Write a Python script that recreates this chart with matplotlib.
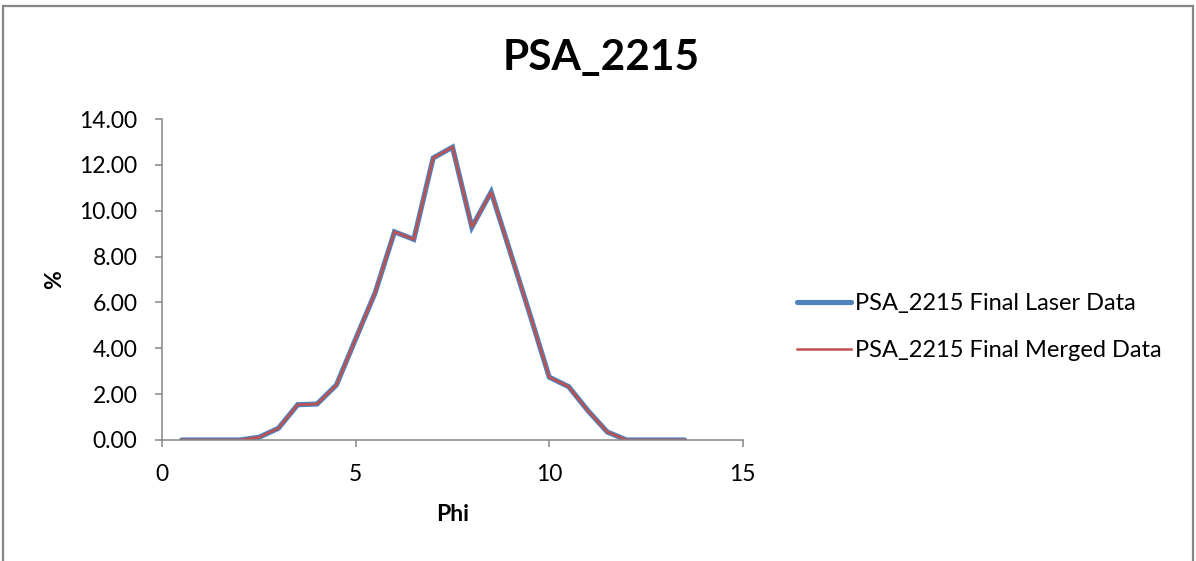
import matplotlib
matplotlib.use("Agg")
import matplotlib.pyplot as plt
from matplotlib.patches import Rectangle

plt.rcParams["font.family"] = ["Lato", "DejaVu Sans"]

# grain size distribution, phi classes
phi = [0.5, 1.0, 1.5, 2.0, 2.5, 3.0, 3.5, 4.0, 4.5, 5.0, 5.5, 6.0, 6.5, 7.0,
       7.5, 8.0, 8.5, 9.0, 9.5, 10.0, 10.5, 11.0, 11.5, 12.0, 12.5, 13.0, 13.5]
laser = [0.00, 0.00, 0.00, 0.00, 0.12, 0.51, 1.54, 1.57, 2.40, 4.42, 6.42, 9.08,
         8.75, 12.30, 12.77, 9.28, 10.82, 8.15, 5.48, 2.74, 2.33, 1.28, 0.35,
         0.00, 0.00, 0.00, 0.00]
merged = list(laser)

series_names = ["PSA_2215 Final Laser Data", "PSA_2215 Final Merged Data"]
title = "PSA_2215"

GRAY = "#868686"
BLUE = "#4F81BD"
RED = "#C0504D"
FS = 16.5

fig = plt.figure(figsize=(11.96, 5.61), dpi=100)
ax = fig.add_axes([162.3 / 1196, 1 - 440 / 561, (742.7 - 162.3) / 1196, (440 - 119) / 561])

l1, = ax.plot(phi, laser, color=BLUE, lw=3.7, solid_capstyle="round", solid_joinstyle="miter")
l2, = ax.plot(phi, merged, color=RED, lw=1.8, solid_joinstyle="miter")

ax.set_xlim(0, 15)
ax.set_ylim(0, 14)
ax.set_xticks([0, 5, 10, 15])
ax.set_yticks(range(0, 15, 2))
ax.set_yticklabels([f"{v:.2f}" for v in range(0, 15, 2)])

for side in ("top", "right"):
    ax.spines[side].set_visible(False)
for side in ("left", "bottom"):
    ax.spines[side].set_color(GRAY)
    ax.spines[side].set_linewidth(1.1)
ax.tick_params(axis="x", direction="out", length=5, width=1.1, color=GRAY,
               labelsize=FS, pad=12)
ax.tick_params(axis="y", direction="out", length=5, width=1.1, color=GRAY,
               labelsize=FS, pad=13)

ax.set_xlabel("Phi", fontsize=FS, fontweight="bold", labelpad=14)
ax.set_ylabel("%", fontsize=FS, fontweight="bold", labelpad=10)

fig.text(0.503, 1 - 70 / 561, title, ha="center", va="baseline",
         fontsize=30.5, fontweight="bold")

fig.legend([l1, l2], series_names, loc="center left",
           bbox_to_anchor=(788 / 1196, 1 - 327 / 561), borderaxespad=0,
           frameon=False, fontsize=17, handlelength=2.25, handletextpad=0.2,
           labelspacing=1.1)

# chart area border
fig.patches.append(Rectangle((3 / 1196, -0.05), 1190 / 1196, 1.05 - 6 / 561,
                             transform=fig.transFigure, fill=False,
                             edgecolor=GRAY, linewidth=1.6))

fig.savefig("out.png", dpi=100, facecolor="white")
